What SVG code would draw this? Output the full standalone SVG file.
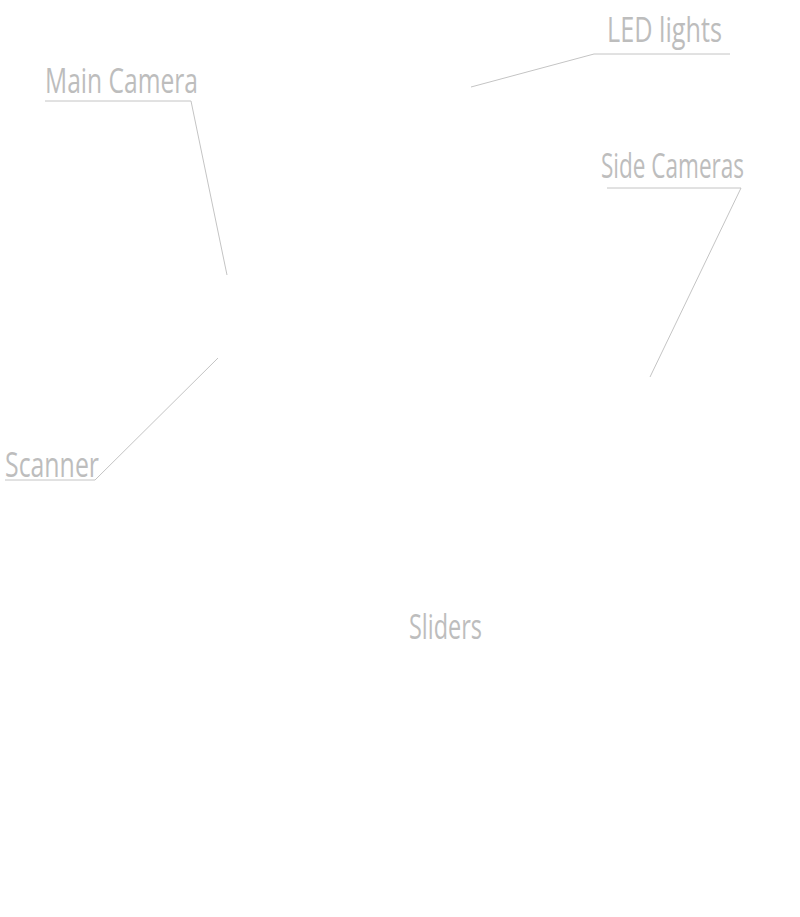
<svg xmlns="http://www.w3.org/2000/svg" width="800" height="917" viewBox="0 0 800 917">
<style>
.lbl{font-family:"Open Sans","Liberation Sans",sans-serif;font-size:34px;fill:#bdbdbd}
.ln{stroke:#c4c4c4;stroke-width:1;fill:none}
</style>
<rect width="800" height="917" fill="#fff"/>
<g id="led-lights" transform="translate(607,42) scale(0.7,1)"><text class="lbl" x="0" y="0" textLength="164.3" lengthAdjust="spacingAndGlyphs">LED lights</text></g>
<g id="main-camera" transform="translate(45,93) scale(0.7,1)"><text class="lbl" x="0" y="0" textLength="218.6" lengthAdjust="spacingAndGlyphs">Main Camera</text></g>
<g id="side-cameras" transform="translate(601,178) scale(0.7,1)"><text class="lbl" x="0" y="0" textLength="204.3" lengthAdjust="spacingAndGlyphs">Side Cameras</text></g>
<g id="scanner" transform="translate(5,477) scale(0.7,1)"><text class="lbl" x="0" y="0" textLength="134.3" lengthAdjust="spacingAndGlyphs">Scanner</text></g>
<g id="sliders" transform="translate(409,639) scale(0.7,1)"><text class="lbl" x="0" y="0" textLength="104.3" lengthAdjust="spacingAndGlyphs">Sliders</text></g>
<g id="connectors">
<polyline class="ln" points="730,54 594,54 471,87"/>
<polyline class="ln" points="45,101 191,101 227,275"/>
<polyline class="ln" points="607,188 741,188 650,377"/>
<polyline class="ln" points="5,480 95,480 218,358"/>
</g>
</svg>
